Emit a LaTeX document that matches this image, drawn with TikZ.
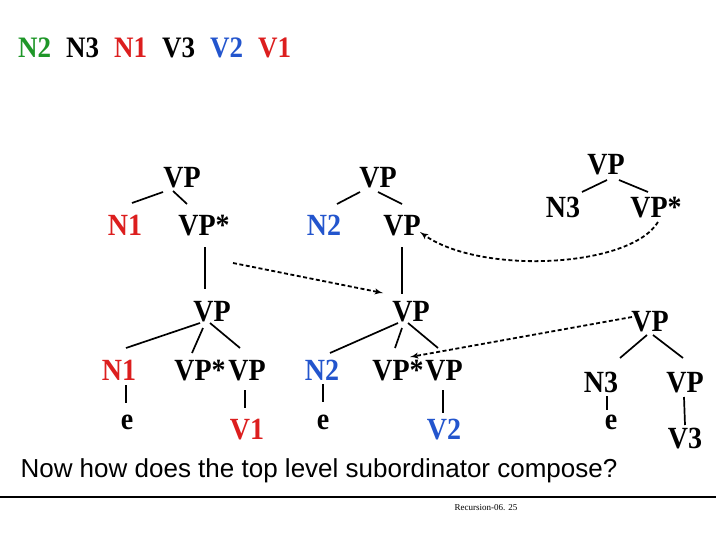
\documentclass[tikz,border=0pt]{standalone}
\usepackage{fontspec}
\setmainfont{Liberation Serif}
\setsansfont{Liberation Sans}
\usepackage{xcolor}
\usepackage{tikz}
\usetikzlibrary{arrows,positioning,calc}
\definecolor{nred}{RGB}{220,30,30}
\definecolor{nblue}{RGB}{35,85,205}
\definecolor{ngreen}{RGB}{30,150,40}

\begin{document}
\begin{tikzpicture}[x=1pt,y=-1pt,on grid,>=latex',
  lbl/.style={font=\fontsize{28}{30}\selectfont\bfseries,text height=18pt,text depth=0pt,inner sep=0pt,yscale=1.1,transform shape},
  edge/.style={line width=1.7pt},
  move/.style={->,line width=1.8pt,dash pattern=on 4pt off 2.5pt}]
\useasboundingbox (0,0) rectangle (720,540);
% order of the words
\node[lbl,font=\fontsize{27}{30}\selectfont\bfseries,anchor=west](order) at (18,48){\textcolor{ngreen}{N2}\hspace{15pt}N3\hspace{15pt}\textcolor{nred}{N1}\hspace{15pt}V3\hspace{15pt}\textcolor{nblue}{V2}\hspace{15pt}\textcolor{nred}{V1}};
% first subordinator
\node[lbl](vpA) at (182,178){VP};
\node[lbl,text=nred,below left=48pt and 57pt of vpA](nA){N1};
\node[lbl,below right=48pt and 22pt of vpA](vpsA){VP*};
\node[lbl,below right=86pt and 8pt of vpsA](vpA2){VP};
\node[lbl,text=nred,below left=59pt and 93pt of vpA2](nA2){N1};
\node[lbl,below left=59pt and 12pt of vpA2](vpsA2){VP*};
\node[lbl,below right=59pt and 35pt of vpA2](vA2){VP};
\node[lbl,below right=49pt and 8pt of nA2](eA){e};
\node[lbl,text=nred,below=59pt of vA2](vA3){V1};
% second subordinator
\node[lbl](vpB) at (378,178){VP};
\node[lbl,text=nblue,below left=48pt and 54pt of vpB](nB){N2};
\node[lbl,below right=48pt and 24pt of vpB](vpB2){VP};
\node[lbl,below right=86pt and 9pt of vpB2](vpB3){VP};
\node[lbl,text=nblue,below left=59pt and 89pt of vpB3](nB3){N2};
\node[lbl,below left=59pt and 13pt of vpB3](vpsB3){VP*};
\node[lbl,below right=59pt and 33pt of vpB3](vB3){VP};
\node[lbl,below right=49pt and 1pt of nB3](eB){e};
\node[lbl,text=nblue,below=59pt of vB3](vB4){V2};
% third subordinator
\node[lbl](vpC) at (606,165){VP};
\node[lbl,below left=43pt and 43pt of vpC](nC){N3};
\node[lbl,below right=43pt and 50pt of vpC](vpsC){VP*};
\node[lbl](vpC2) at (650,322){VP};
\node[lbl,below left=61pt and 49pt of vpC2](nC2){N3};
\node[lbl,below right=61pt and 35pt of vpC2](vC2){VP};
\node[lbl,below right=37pt and 10pt of nC2](eC){e};
\node[lbl,below=56pt of vC2](vC3){V3};
% tree edges
\draw[edge]($(vpA)+(-19,14)$)--($(nA)+(7,-23)$); \draw[edge]($(vpA)+(-9,13)$)--($(vpsA)+(-17,-22)$);
\draw[edge]($(vpsA)+(1,21)$)--($(vpA2)+(-7,-23)$);
\draw[edge]($(vpA2)+(-12,11)$)--($(nA2)+(7,-23)$); \draw[edge]($(vpA2)+(-9,16)$)--($(vpsA2)+(-8,-18)$);
\draw[edge]($(vpA2)+(-2,11)$)--($(vA2)+(-7,-23)$);
\draw[edge]($(nA2)+(7,14)$)--($(eA)+(-1,-17)$); \draw[edge]($(vA2)+(-2,19)$)--($(vA3)+(-2,-22)$);
\draw[edge]($(vpB)+(-18,14)$)--($(nB)+(13,-22)$); \draw[edge]($(vpB)+(0,14)$)--($(vpB2)+(0,-22)$);
\draw[edge]($(vpB2)+(0,21)$)--($(vpB3)+(-9,-18)$);
\draw[edge]($(vpB3)+(-13,11)$)--($(nB3)+(8,-18)$); \draw[edge]($(vpB3)+(-9,16)$)--($(vpsB3)+(-3,-23)$);
\draw[edge]($(vpB3)+(-3,11)$)--($(vB3)+(-6,-23)$);
\draw[edge]($(nB3)+(1,13)$)--($(eB)+(0,-18)$); \draw[edge]($(vB3)+(-1,19)$)--($(vB4)+(-1,-17)$);
\draw[edge]($(vpC)+(1,15)$)--($(nC)+(19,-16)$); \draw[edge]($(vpC)+(13,15)$)--($(vpsC)+(-8,-16)$);
\draw[edge]($(vpC2)+(-3,13)$)--($(nC2)+(19,-25)$); \draw[edge]($(vpC2)+(3,13)$)--($(vC2)+(-2,-25)$);
\draw[edge]($(nC2)+(6,13)$)--($(eC)+(-4,-10)$); \draw[edge]($(vC2)+(-1,14)$)--($(vC3)+(0,-14)$);
% substitutions
\draw[move]($(vpsA)+(29,37)$)--($(vpB3)+(-28,-19)$);
\draw[move]($(vpsC)+(2,14)$) .. controls +(-28,46) and +(60,43) .. ($(vpB2)+(18,6)$);
\draw[move]($(vpC2)+(-18,-5)$)--($(vpsB3)+(12,-14)$);
% question and footer
\node[font=\sffamily\fontsize{26}{30}\selectfont,anchor=west](question) at (17,471){Now how does the top level subordinator compose?};
\coordinate (ruleL) at (0,497); \coordinate (ruleR) at (716,497);
\draw[line width=2.4pt](ruleL)--(ruleR);
\node[font=\fontsize{9}{10}\selectfont](footer) at (486,508){Recursion-06. 25};
\end{tikzpicture}
\end{document}
